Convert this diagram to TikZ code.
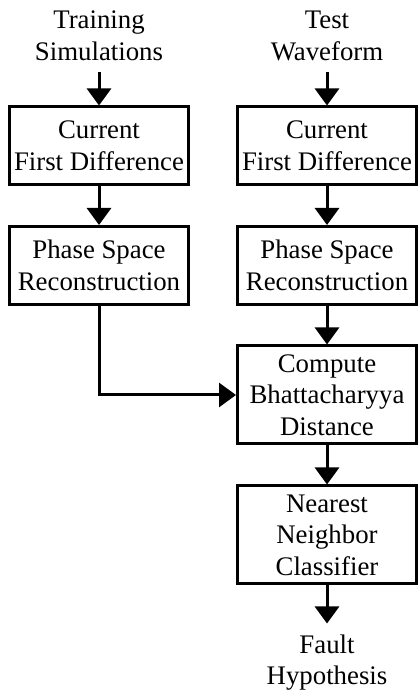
\documentclass[tikz,border=0pt]{standalone}
\usepackage{fontspec}
\setmainfont{Liberation Serif}
\usetikzlibrary{arrows.meta}

\tikzset{
  stagebox/.style={draw, line width=3pt, minimum width=179pt, align=center,
    inner sep=0pt, font=\fontsize{26.8}{31.5}\selectfont},
  endlabel/.style={align=center, inner sep=0pt, font=\fontsize{26.8}{31.5}\selectfont},
  flow/.style={line width=3pt, -{Triangle[width=24pt,length=17pt]}}
}

\begin{document}
\begin{tikzpicture}[x=1pt,y=1pt]
  \useasboundingbox (0,0) rectangle (417,692);

  % Training branch
  \node[endlabel] (train) at (99,656) {Training\\Simulations};
  \node[stagebox, minimum height=78pt] (tdiff) at (99,546) {Current\\First Difference};
  \node[stagebox, minimum height=78pt] (tpss) at (99,426.5) {Phase Space\\Reconstruction};

  % Test branch
  \node[endlabel] (test) at (327,656) {Test\\Waveform};
  \node[stagebox, minimum height=78pt] (wdiff) at (327,546) {Current\\First Difference};
  \node[stagebox, minimum height=78pt] (wpss) at (327,426.5) {Phase Space\\Reconstruction};

  % Comparison and decision
  \node[stagebox, minimum height=98pt] (bhat) at (327,297) {Compute\\Bhattacharyya\\Distance};
  \node[stagebox, minimum height=98pt] (knn) at (327,157) {Nearest\\Neighbor\\Classifier};
  \node[endlabel] (fault) at (327,29.5) {Fault\\Hypothesis};

  % Connectors
  \draw[flow] ([yshift=-36pt]train.center) -- (tdiff);
  \draw[flow] (tdiff) -- (tpss);
  \draw[flow] ([yshift=-36pt]test.center) -- (wdiff);
  \draw[flow] (wdiff) -- (wpss);
  \draw[flow] (wpss) -- (bhat);
  \draw[flow] (tpss.south) |- (bhat.west);
  \draw[flow] (bhat) -- (knn);
  \draw[flow] (knn) -- ([yshift=39pt]fault.center);
\end{tikzpicture}
\end{document}
